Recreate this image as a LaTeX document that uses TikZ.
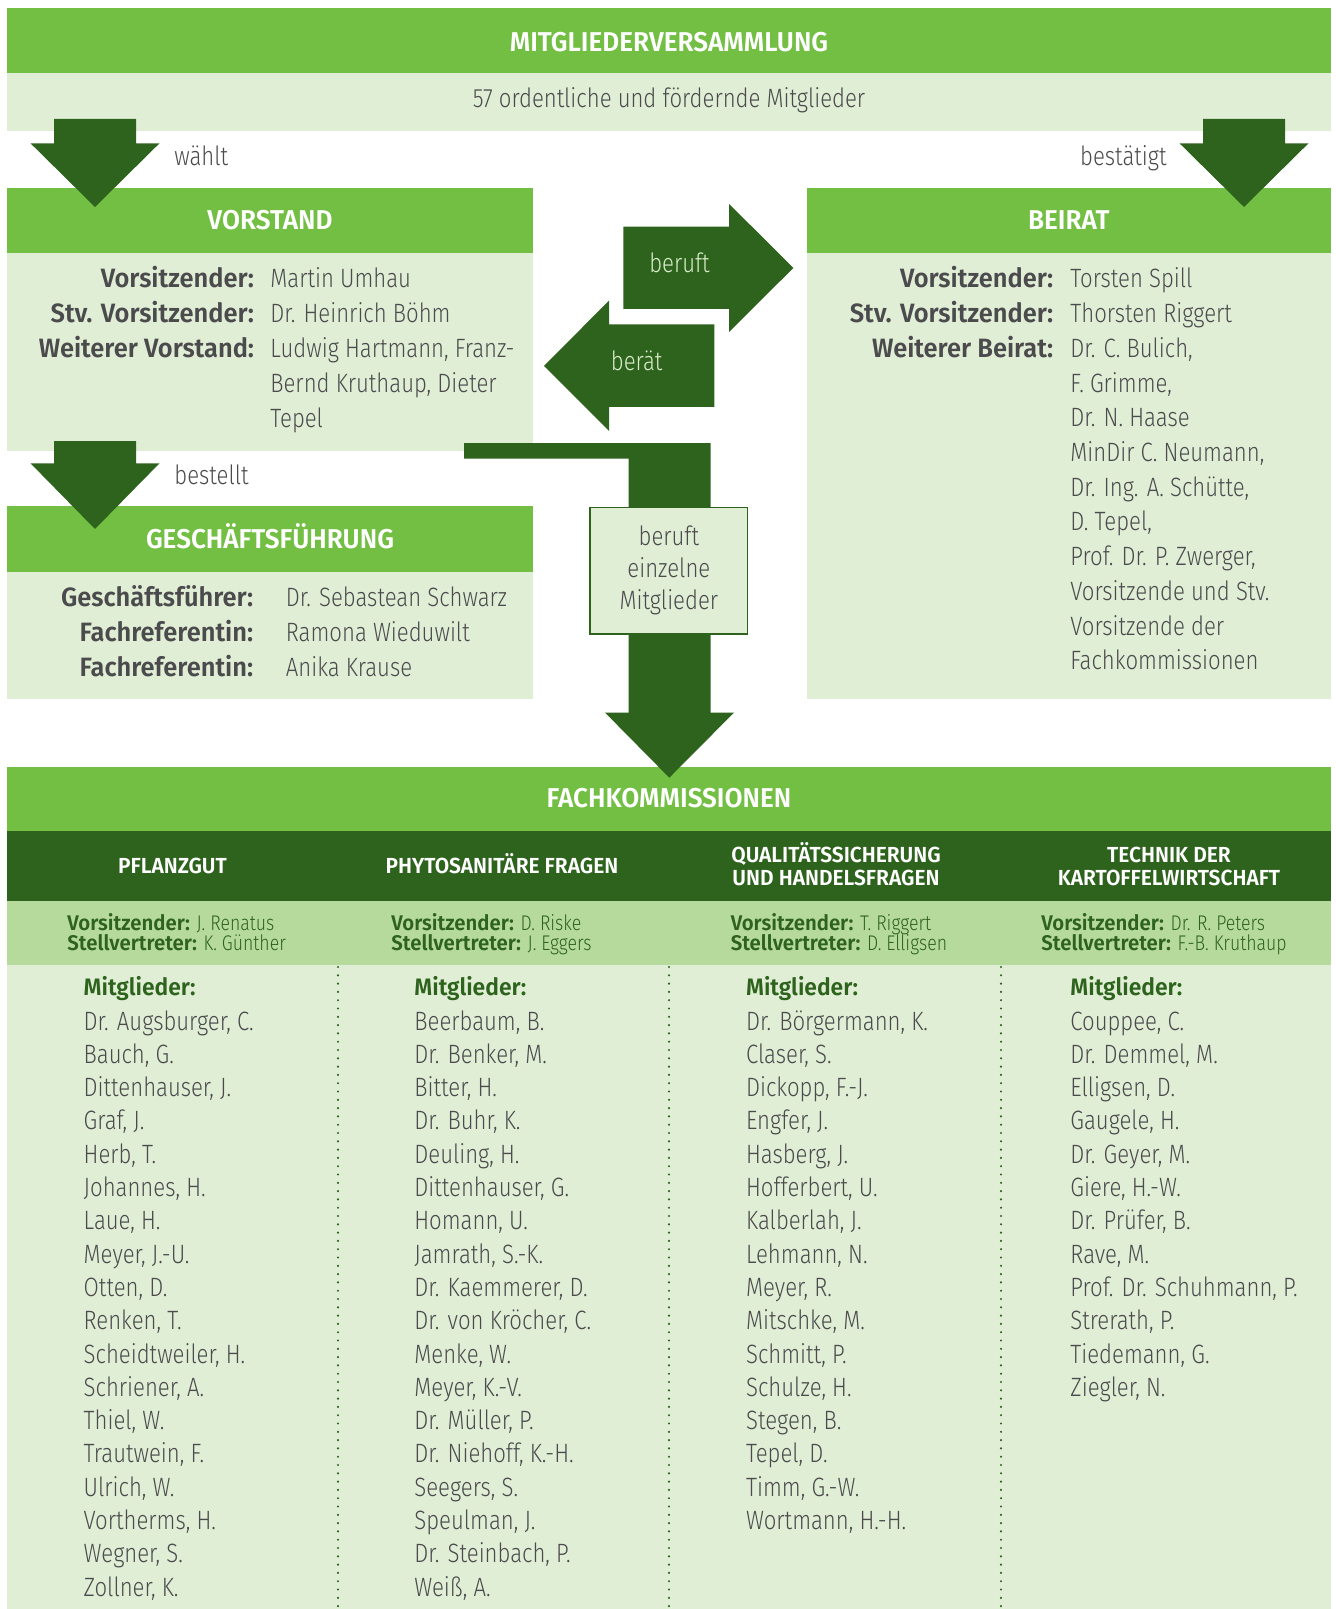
\documentclass[tikz,border=0pt]{standalone}
\usepackage{fontspec}
\setmainfont{Fira Sans Light}[UprightFeatures={FakeStretch=0.835},BoldFont={Fira Sans SemiBold},BoldFeatures={FakeStretch=0.96}]
\definecolor{lightgreen}{HTML}{72BF44}
\definecolor{palegreen}{HTML}{E1EED6}
\definecolor{midgreen}{HTML}{B6DA9B}
\definecolor{darkgreen}{HTML}{2E631D}
\definecolor{textgray}{HTML}{4B4B4D}
\definecolor{labelgreen}{HTML}{D9EBCB}
\tikzset{
	headtxt/.style={inner sep=0pt, anchor=base, text=white, font=\fontsize{13.6}{16}\selectfont\bfseries},
	lbl/.style={inner sep=0pt, anchor=base east, text=textgray, font=\fontsize{13.25}{16}\selectfont\bfseries},
	val/.style={inner sep=0pt, anchor=base west, text=textgray, font=\fontsize{13.25}{16}\selectfont},
	arrowlbl/.style={inner sep=0pt, anchor=base, text=labelgreen, font=\fontsize{13.25}{16}\selectfont},
	colhead/.style={inner sep=0pt, anchor=base, text=white, font=\fontsize{10.9}{12}\selectfont\bfseries},
	chair/.style={inner sep=0pt, anchor=base west, text=darkgreen, font=\fontsize{10.6}{11}\selectfont},
	memhead/.style={inner sep=0pt, anchor=base west, text=darkgreen, font=\fontsize{11.9}{13}\selectfont\bfseries},
	member/.style={inner sep=0pt, anchor=base west, text=textgray, font=\fontsize{13.25}{16}\selectfont},
	callbox/.style={draw=darkgreen, line width=0.6pt, fill=palegreen, minimum width=78.85pt, minimum height=63.2pt, inner sep=0pt, align=center, text=textgray, font=\fontsize{13.25}{16}\selectfont},
	sepline/.style={darkgreen, line width=1.2pt, line cap=round, dash pattern=on 0pt off 4.15pt}
}
\begin{document}
\begin{tikzpicture}[x=0.5pt, y=-0.5pt]
	\useasboundingbox (0,0) rectangle (1336,1609);
	\fill[lightgreen] (7,8) rectangle (1331,72.7);
	\fill[palegreen] (7,72.7) rectangle (1331,130.7);
	\fill[lightgreen] (7,188) rectangle (533,253.3);
	\fill[palegreen] (7,253.3) rectangle (533,450.7);
	\fill[lightgreen] (806.5,188) rectangle (1331,253.3);
	\fill[palegreen] (806.5,253.3) rectangle (1331,699);
	\fill[lightgreen] (7,506) rectangle (533,571.5);
	\fill[palegreen] (7,571.5) rectangle (533,699);
	\fill[lightgreen] (7,766.5) rectangle (1331,831);
	\fill[darkgreen] (7,831) rectangle (1331,901);
	\fill[midgreen] (7,901) rectangle (1331,964.5);
	\fill[palegreen] (7,964.5) rectangle (1331,1609);
	\foreach \x in {338, 669, 1001} \draw[sepline] (\x,967) -- (\x,1609);

	\foreach \cx/\ya/\yb/\yc in {95/119/143.3/207, 1244/119/143.3/207, 95/441/463.3/529}
		\fill[darkgreen] (\cx-41,\ya) -- (\cx+41,\ya) -- (\cx+41,\yb) -- (\cx+64.5,\yb) -- (\cx,\yc) -- (\cx-64.5,\yb) -- (\cx-41,\yb) -- cycle;
	\fill[darkgreen] (623.3,226.7) -- (729,226.7) -- (729,203.8) -- (793.3,268) -- (729,332) -- (729,309) -- (623.3,309) -- cycle;
	\fill[darkgreen] (714.3,324.4) -- (609,324.4) -- (609,300.7) -- (544,365.8) -- (609,431) -- (609,406.8) -- (714.3,406.8) -- cycle;
	\node[callbox] (berufbox) at (668.85,570.8) {beruft\\einzelne\\Mitglieder};
	\coordinate (vbarL) at (628.7,458.5);
	\coordinate (vbarR) at (710.7,443);
	\fill[darkgreen] (464,443) -- (vbarR) -- (vbarR |- berufbox.north) -- (vbarL |- berufbox.north) -- (vbarL) -- (464,458.5) -- cycle;
	\fill[darkgreen] (vbarL |- berufbox.south) -- (vbarR |- berufbox.south) -- (710.7,712.6) -- (734,712.6) -- (669.3,777.7) -- (605,712.6) -- (628.7,712.6) -- cycle;

	\node[headtxt] (mvtitle) at (669,51.7) {MITGLIEDERVERSAMMLUNG};
	\node[val, anchor=base] (mvsub) at (669,107.3) {57 ordentliche und fördernde Mitglieder};
	\node[val] (waehlt) at (174,166) {wählt};
	\node[val, anchor=base east] (bestaetigt) at (1167,166) {bestätigt};
	\node[val] (bestellt) at (174,484) {bestellt};
	\node[arrowlbl] (beruft) at (679.5,273) {beruft};
	\node[arrowlbl] (beraet) at (636.7,370.4) {berät};

	\node[headtxt] (vtitle) at (270,230) {VORSTAND};
	\node[lbl] (vl1) at (254.5,288) {Vorsitzender:};
	\node[lbl] (vl2) at (254.5,322.8) {Stv. Vorsitzender:};
	\node[lbl] (vl3) at (254.5,357.6) {Weiterer Vorstand:};
	\foreach \nm [count=\i from 0] in {Martin Umhau, Dr. Heinrich Böhm, {Ludwig Hartmann, Franz-}, {Bernd Kruthaup, Dieter}, Tepel}
		\node[val] (vv\i) at (270,288+34.8*\i) {\nm};

	\node[headtxt] (btitle) at (1068.8,230) {BEIRAT};
	\node[lbl] (bl1) at (1053.7,288) {Vorsitzender:};
	\node[lbl] (bl2) at (1053.7,322.7) {Stv. Vorsitzender:};
	\node[lbl] (bl3) at (1053.7,357.4) {Weiterer Beirat:};
	\foreach \nm [count=\i from 0] in {Torsten Spill, Thorsten Riggert, {Dr. C. Bulich,}, {F. Grimme,}, Dr. N. Haase, {MinDir C. Neumann,}, {Dr. Ing. A. Schütte,}, {D. Tepel,}, {Prof. Dr. P. Zwerger,}, Vorsitzende und Stv., Vorsitzende der, Fachkommissionen}
		\node[val] (bv\i) at (1070,288+34.7*\i) {\nm};

	\node[headtxt] (gtitle) at (270,548) {GESCHÄFTSFÜHRUNG};
	\node[lbl] (gl1) at (253.6,606) {Geschäftsführer:};
	\node[lbl] (gl2) at (253.6,641) {Fachreferentin:};
	\node[lbl] (gl3) at (253.6,676) {Fachreferentin:};
	\node[val] (gv1) at (285.5,606) {Dr. Sebastean Schwarz};
	\node[val] (gv2) at (285.5,641) {Ramona Wieduwilt};
	\node[val] (gv3) at (285.5,676) {Anika Krause};

	\node[headtxt] (ftitle) at (669,807) {FACHKOMMISSIONEN};
	\node[colhead] (pgtitle) at (172.5,873) {PFLANZGUT};
	\node[colhead] (phtitle) at (502,873) {PHYTOSANITÄRE FRAGEN};
	\node[colhead] (qstitle) at (836,862.7) {QUALITÄTSSICHERUNG};
	\node[colhead] (qstitleb) at (836,885) {UND HANDELSFRAGEN};
	\node[colhead] (tktitle) at (1169,862.7) {TECHNIK DER};
	\node[colhead] (tktitleb) at (1169,885) {KARTOFFELWIRTSCHAFT};
	\foreach \x/\nm/\vt/\sv in {67/pg/J. Renatus/K. Günther, 391/ph/D. Riske/J. Eggers, 730.4/qs/T. Riggert/D. Elligsen, 1041/tk/Dr. R. Peters/F.-B. Kruthaup} {
		\node[chair] (\nm chair) at (\x,930) {\textbf{Vorsitzender:} \vt};
		\node[chair] (\nm dep) at (\x,950) {\textbf{Stellvertreter:} \sv};
	}
	\foreach \x/\nm in {83.3/pg, 414/ph, 745.7/qs, 1070/tk}
		\node[memhead] (\nm head) at (\x,995) {Mitglieder:};
	\foreach \nm [count=\i from 0] in {{Dr. Augsburger, C.}, {Bauch, G.}, {Dittenhauser, J.}, {Graf, J.}, {Herb, T.}, {Johannes, H.}, {Laue, H.}, {Meyer, J.-U.}, {Otten, D.}, {Renken, T.}, {Scheidtweiler, H.}, {Schriener, A.}, {Thiel, W.}, {Trautwein, F.}, {Ulrich, W.}, {Vortherms, H.}, {Wegner, S.}, {Zollner, K.}}
		\node[member] (pg\i) at (83.3,1030+33.3*\i) {\nm};
	\foreach \nm [count=\i from 0] in {{Beerbaum, B.}, {Dr. Benker, M.}, {Bitter, H.}, {Dr. Buhr, K.}, {Deuling, H.}, {Dittenhauser, G.}, {Homann, U.}, {Jamrath, S.-K.}, {Dr. Kaemmerer, D.}, {Dr. von Kröcher, C.}, {Menke, W.}, {Meyer, K.-V.}, {Dr. Müller, P.}, {Dr. Niehoff, K.-H.}, {Seegers, S.}, {Speulman, J.}, {Dr. Steinbach, P.}, {Weiß, A.}}
		\node[member] (ph\i) at (414,1030+33.3*\i) {\nm};
	\foreach \nm [count=\i from 0] in {{Dr. Börgermann, K.}, {Claser, S.}, {Dickopp, F.-J.}, {Engfer, J.}, {Hasberg, J.}, {Hofferbert, U.}, {Kalberlah, J.}, {Lehmann, N.}, {Meyer, R.}, {Mitschke, M.}, {Schmitt, P.}, {Schulze, H.}, {Stegen, B.}, {Tepel, D.}, {Timm, G.-W.}, {Wortmann, H.-H.}}
		\node[member] (qs\i) at (745.7,1030+33.3*\i) {\nm};
	\foreach \nm [count=\i from 0] in {{Couppee, C.}, {Dr. Demmel, M.}, {Elligsen, D.}, {Gaugele, H.}, {Dr. Geyer, M.}, {Giere, H.-W.}, {Dr. Prüfer, B.}, {Rave, M.}, {Prof. Dr. Schuhmann, P.}, {Strerath, P.}, {Tiedemann, G.}, {Ziegler, N.}}
		\node[member] (tk\i) at (1070,1030+33.3*\i) {\nm};
\end{tikzpicture}
\end{document}
